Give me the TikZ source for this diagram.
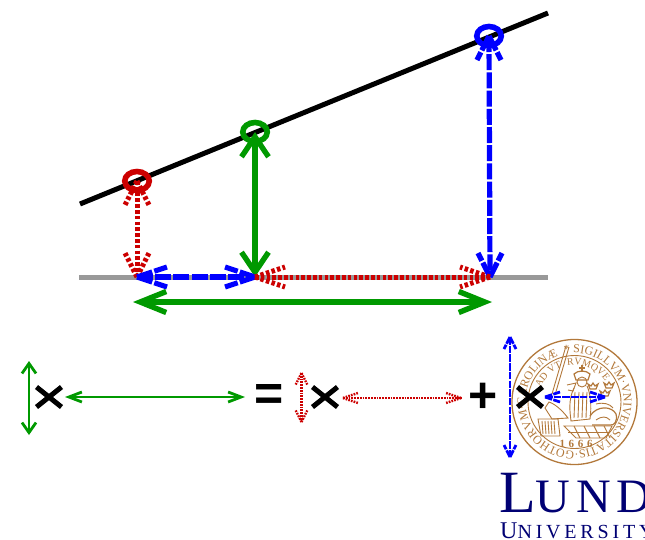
\documentclass[tikz,border=0pt]{standalone}
\usepackage{fontspec}
\setmainfont{Liberation Serif}
\newfontfamily\signfont{Liberation Sans}
\newfontfamily\lundfont[LetterSpace=12]{Liberation Serif}
\newfontfamily\unifont[LetterSpace=19]{Liberation Serif}
\usepackage{xcolor}
\usetikzlibrary{arrows.meta,positioning,shapes.geometric,shapes.misc,decorations.text}
\definecolor{pathred}{RGB}{204,0,0}
\definecolor{pathblue}{RGB}{0,0,255}
\definecolor{pathgreen}{RGB}{0,153,0}
\definecolor{sealbrown}{RGB}{178,120,58}
\definecolor{lundblue}{RGB}{0,0,115}
\tikzset{
  redline/.style={pathred,line width=5pt,dash pattern=on 3.5pt off 2.3pt},
  blueline/.style={pathblue,line width=5.2pt,dash pattern=on 16pt off 2.2pt},
  redthin/.style={pathred,line width=2.4pt,dash pattern=on 1.7pt off 1.1pt},
  bluethin/.style={pathblue,line width=2.8pt,dash pattern=on 7.5pt off 1.2pt},
  greenh/.style={pathgreen,line width=5.4pt,{Straight Barb[length=26pt,width=21pt]}-{Straight Barb[length=26pt,width=21pt]}},
  greenv/.style={pathgreen,line width=5.4pt,{Straight Barb[length=20pt,width=27pt]}-{Straight Barb[length=20pt,width=27pt]}},
  greenhthin/.style={pathgreen,line width=2.8pt,{Straight Barb[length=13pt,width=10pt]}-{Straight Barb[length=13pt,width=10pt]}},
  greenvthin/.style={pathgreen,line width=2.8pt,{Straight Barb[length=10pt,width=14pt]}-{Straight Barb[length=10pt,width=14pt]}},
  pointmark/.style={ellipse,draw,line width=5.6pt,minimum width=24.5pt,minimum height=19pt,inner sep=0pt,outer sep=0pt},
  crossmark/.style={cross out,draw=black,line width=5pt,minimum width=25pt,minimum height=20pt,inner sep=0pt,outer sep=0pt},
  signmark/.style={font=\signfont\bfseries\fontsize{50}{50}\selectfont,inner sep=0pt,text=black},
  sealline/.style={sealbrown,line width=0.9pt},
  sealtext/.style={decorate,decoration={text along path,text align={fit to path},text={#1}}},
}
\newcommand{\horizarrow}[4][1]{
  \draw[#2] (#3) -- (#4);
  \draw[#2] (#3) -- ++(30*#1,-10*#1);
  \draw[#2] (#3) -- ++(30*#1,10*#1);
  \draw[#2] (#4) -- ++(-30*#1,-10*#1);
  \draw[#2] (#4) -- ++(-30*#1,10*#1);
}
\newcommand{\vertarrow}[4][1]{
  \draw[#2] (#3) -- (#4);
  \draw[#2] (#3) -- ++(-12*#1,24*#1);
  \draw[#2] (#3) -- ++(12*#1,24*#1);
  \draw[#2] (#4) -- ++(-12*#1,-24*#1);
  \draw[#2] (#4) -- ++(12*#1,-24*#1);
}
\begin{document}
\begin{tikzpicture}[x=1pt,y=-1pt]
  \useasboundingbox (0,0) rectangle (645,539);
  \coordinate (linestart) at (80,204);
  \coordinate (lineend) at (548,13);
  \coordinate (basestart) at (79,277);
  \coordinate (baseend) at (548,277);
  \coordinate (basered) at (137,277);
  \coordinate (basegreen) at (255,277);
  \coordinate (baseblue) at (490,277);
  \coordinate (spanleft) at (133,302);
  \coordinate (spanright) at (492,302);
  \draw[black!40,line width=5pt] (basestart) -- (baseend);
  \draw[black,line width=5pt] (linestart) -- (lineend);
  \node[pointmark,draw=pathred] (redpoint) at (137,181) {};
  \node[pointmark,draw=pathgreen] (greenpoint) at (255,132) {};
  \node[pointmark,draw=pathblue] (bluepoint) at (489,36) {};
  \vertarrow{redline}{redpoint.center}{basered}
  \draw[greenv] (greenpoint.center) -- (basegreen);
  \vertarrow{blueline}{bluepoint.center}{baseblue}
  \horizarrow{blueline}{basered}{basegreen}
  \horizarrow{redline}{basegreen}{baseblue}
  \draw[greenh] (spanleft) -- (spanright);

  \coordinate (seal) at (574.5,402);
  \draw[sealbrown,line width=1.3pt] (seal) circle (62.5);
  \draw[sealline] (seal) circle (46.5);
  \path[sealtext={|\fontsize{12}{12}\selectfont\color{sealbrown}|* SIGILLVM·VNIVERSITATIS·GOTHORVM·CAROLINÆ}] (seal) ++(-102:49) arc (-102:246:49);
  \path[sealtext={|\fontsize{10}{10}\selectfont\color{sealbrown}|AD VT}] (seal) ++(-157:37) arc (-157:-110:37);
  \path[sealtext={|\fontsize{10}{10}\selectfont\color{sealbrown}|RVMQVE}] (seal) ++(-101:37) arc (-101:-37:37);
  \node[text=sealbrown,font=\bfseries\fontsize{11}{11}\selectfont,inner sep=0pt] (sealyear) at (576,443.5) {1\,\,6\,\,6\,\,6};
  % sword
  \draw[sealline] (566,346) -- (552,394) (569,347) -- (555,395);
  % figure
  \draw[sealline,line width=1.2pt] (582,365) -- (582,372) (579,368) -- (585,368);
  \draw[sealline,line width=1.2pt] (574,374) .. controls (578,370) and (586,370) .. (590,374) -- (588,380) -- (576,380) -- cycle;
  \draw[sealline] (582,382) circle (5);
  \draw[sealline] (567,385) -- (576,383) -- (573,391) -- (568,390);
  \draw[sealline] (574,388) .. controls (568,400) and (570,412) .. (571,421) -- (590,419) .. controls (592,405) and (590,392) .. (587,386);
  \foreach \foldx in {575,579,583,587}
    \draw[sealline] (\foldx,392) -- (\foldx-1,418);
  % seat and chest
  \draw[sealline] (549,402) .. controls (555,404) and (562,410) .. (568,418) -- (552,419) -- (545,408) -- cycle;
  \draw[sealline] (538,419) -- (558,419) -- (560,436) -- (541,436) -- cycle;
  \foreach \barx in {542,545,548,551,554}
    \draw[sealline] (\barx,421) -- (\barx+1,434);
  % lion
  \draw[sealline,line width=1.2pt] (590,416) .. controls (597,405) and (612,406) .. (616,414) .. controls (618,421) and (614,426) .. (610,425) -- (592,425);
  \draw[sealline] (596,420) .. controls (602,416) and (606,416) .. (610,420) (596,404) .. controls (604,402) and (610,404) .. (613,408);
  % floor
  \draw[sealline] (564,426) -- (612,426) -- (606,438) -- (576,438) -- cycle;
  \draw[sealline] (568,432) -- (609,432);
  \foreach \tilex in {574,584,594,604}
    \draw[sealline] (\tilex,426) -- (\tilex+6,438);
  % crowns
  \foreach \crownx/\crowny in {593/388,609/387,605/395}
    \draw[sealline,line width=1.2pt] (\crownx-5,\crowny-4) -- (\crownx-3,\crowny+1) -- (\crownx+3,\crowny+1) -- (\crownx+5,\crowny-4) -- (\crownx+2,\crowny-2) -- (\crownx,\crowny-5) -- (\crownx-2,\crowny-2) -- cycle;

  \node[anchor=base west,text=lundblue,inner sep=0pt,font=\lundfont] (lundword) at (499,512) {\fontsize{60}{60}\selectfont L\fontsize{48}{48}\selectfont UND};
  \node[anchor=base west,text=lundblue,inner sep=0pt,font=\unifont] (lunduni) at (500,538) {\fontsize{24}{24}\selectfont U\fontsize{20}{20}\selectfont NIVERSITY};

  \node[crossmark] (crossa) at (49,397) {};
  \node[signmark] (equalsign) at (269.5,397.5) {=};
  \node[crossmark] (crossb) at (325,397) {};
  \node[signmark] (plussign) at (483.5,397.5) {+};
  \node[crossmark] (crossc) at (530,397) {};

  \coordinate (greenvtop) at (29,361);
  \coordinate (greenvbot) at (29,435);
  \coordinate (greenhleft) at (65,397);
  \coordinate (greenhright) at (245,397);
  \coordinate (redvtop) at (301.5,373);
  \coordinate (redvbot) at (301.5,422);
  \coordinate (redhleft) at (343,398);
  \coordinate (redhright) at (461,398);
  \coordinate (bluevtop) at (510,337);
  \coordinate (bluevbot) at (510,457);
  \coordinate (bluehleft) at (545,397);
  \coordinate (bluehright) at (605,397);
  \draw[greenvthin] (greenvtop) -- (greenvbot);
  \draw[greenhthin] (greenhleft) -- (greenhright);
  \vertarrow[0.5]{redthin}{redvtop}{redvbot}
  \horizarrow[0.5]{redthin}{redhleft}{redhright}
  \vertarrow[0.5]{bluethin}{bluevtop}{bluevbot}
  \horizarrow[0.5]{bluethin}{bluehleft}{bluehright}
\end{tikzpicture}
\end{document}
